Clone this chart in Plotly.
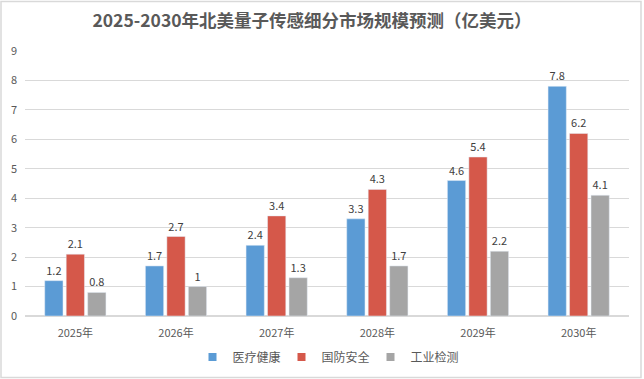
import plotly.graph_objects as go

years = ["2025年", "2026年", "2027年", "2028年", "2029年", "2030年"]
medical = [1.2, 1.7, 2.4, 3.3, 4.6, 7.8]
defense = [2.1, 2.7, 3.4, 4.3, 5.4, 6.2]
industry = [0.8, 1, 1.3, 1.7, 2.2, 4.1]

series = [("医疗健康", medical, "#5B9BD5"),
          ("国防安全", defense, "#D5584A"),
          ("工业检测", industry, "#A5A5A5")]

font_family = "Noto Sans CJK SC, Microsoft YaHei, sans-serif"

fig = go.Figure()
for name, vals, color in series:
    fig.add_trace(go.Bar(
        x=years, y=vals, name=name, marker_color=color,
        text=[str(v) for v in vals], textposition="outside",
        textfont=dict(size=11, color="#404040"),
        cliponaxis=False, showlegend=False,
    ))
# legend-only entries with small square markers
for name, vals, color in series:
    fig.add_trace(go.Scatter(
        x=[None], y=[None], mode="markers", name=name,
        marker=dict(symbol="square", size=8, color=color),
        showlegend=True,
    ))

W, H = 644, 379
L, R, T, B = 25, 15, 51, 63
pw, ph = W - L - R, H - T - B

fig.update_layout(
    width=W, height=H,
    paper_bgcolor="white", plot_bgcolor="white",
    margin=dict(l=L, r=R, t=T, b=B, autoexpand=False),
    font=dict(family=font_family, size=11, color="#595959"),
    title=dict(text="<b>2025-2030年北美量子传感细分市场规模预测（亿美元）</b>",
               x=(312 - L) / pw, xanchor="center", xref="paper",
               y=1 - 21 / H, yanchor="middle",
               font=dict(size=17.5, color="#595959")),
    barmode="group", bargap=0.36, bargroupgap=0.15,
    showlegend=True,
    legend=dict(orientation="h", x=(326 - L) / pw, xanchor="center",
                y=-(357 - (H - B)) / ph, yanchor="middle",
                font=dict(size=12, color="#595959"), itemwidth=30,
                entrywidth=44, entrywidthmode="pixels",
                traceorder="normal"),
    shapes=[dict(type="rect", xref="paper", yref="paper",
                 x0=-(L - 1) / pw, x1=1 + (R - 3) / pw,
                 y0=-(B - 1.5) / ph, y1=1 + (T - 1.5) / ph,
                 line=dict(color="#D9D9D9", width=1.5), layer="below")],
)
fig.update_yaxes(range=[0, 9], dtick=1, showgrid=True, gridcolor="#D9D9D9",
                 gridwidth=1, zeroline=True, zerolinecolor="#D9D9D9",
                 tickfont=dict(size=11, color="#595959"), ticks="", showline=False,
                 ticklabelstandoff=7)
fig.update_xaxes(showline=True, linecolor="#D9D9D9", ticks="",
                 ticklabelstandoff=7,
                 tickfont=dict(size=11, color="#595959"))

fig.write_html("out.html", config={"displayModeBar": False},
               post_script="document.body.style.margin='0';")
